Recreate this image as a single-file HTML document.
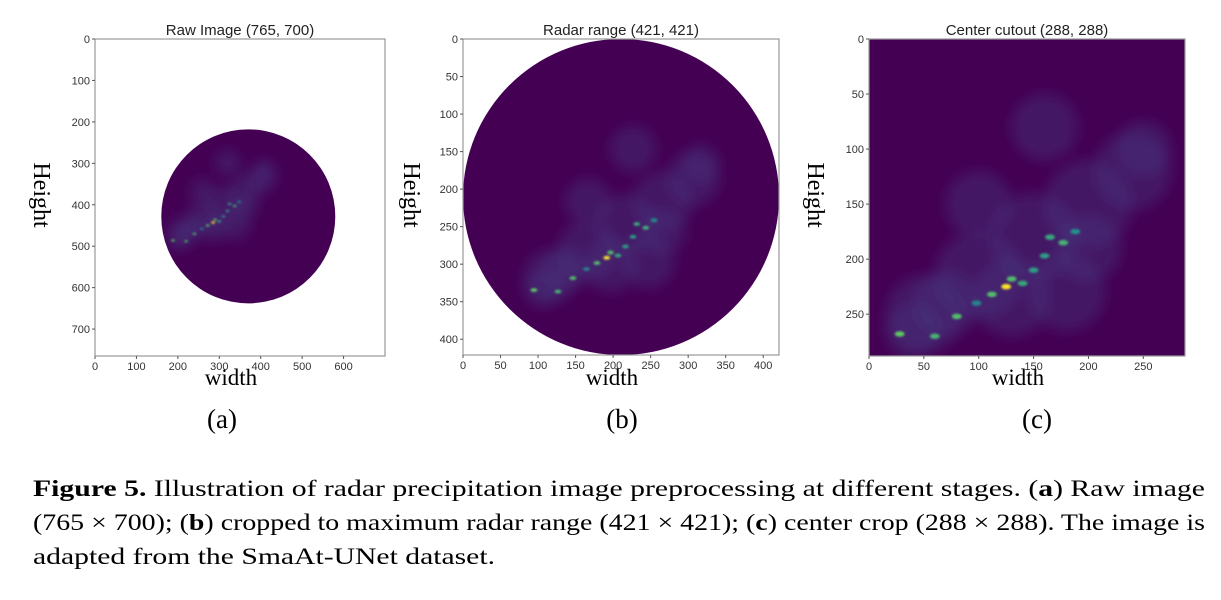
<!DOCTYPE html>
<html><head><meta charset="utf-8"><style>
html,body{margin:0;padding:0;background:#fff;}
svg{display:block;}
.tk{font-family:"Liberation Sans",sans-serif;font-size:11px;fill:#333;}
.tt{font-family:"Liberation Sans",sans-serif;font-size:15px;fill:#222;}
.ser{font-family:"Liberation Serif",serif;fill:#000;}
</style></head><body>
<svg id="fig" width="1221" height="600" viewBox="0 0 1221 600" xmlns="http://www.w3.org/2000/svg">
<defs>
<filter id="bl" x="-50%" y="-50%" width="200%" height="200%"><feGaussianBlur stdDeviation="6"/></filter>
<filter id="bl2" x="-50%" y="-50%" width="200%" height="200%"><feGaussianBlur stdDeviation="1"/></filter>
</defs>
<g id="root"></g>
<text class="ser" x="222" y="428" font-size="27" text-anchor="middle">(a)</text>
<text class="ser" x="622" y="428" font-size="27" text-anchor="middle">(b)</text>
<text class="ser" x="1037" y="428" font-size="27" text-anchor="middle">(c)</text>
<text class="ser" x="33" y="496" font-size="23" textLength="1172" lengthAdjust="spacingAndGlyphs"><tspan font-weight="bold">Figure 5.</tspan> Illustration of radar precipitation image preprocessing at different stages. (<tspan font-weight="bold">a</tspan>) Raw image</text>
<text class="ser" x="33" y="530" font-size="23" textLength="1172" lengthAdjust="spacingAndGlyphs">(765 × 700); (<tspan font-weight="bold">b</tspan>) cropped to maximum radar range (421 × 421); (<tspan font-weight="bold">c</tspan>) center crop (288 × 288). The image is</text>
<text class="ser" x="33" y="564" font-size="23" textLength="462" lengthAdjust="spacingAndGlyphs">adapted from the SmaAt-UNet dataset.</text>
</svg>
<script>
// rain features in center-crop coords (0-288)
const blobX = [50, 100, 150, 200, 240, 100, 160, 250, 130, 40, 200, 180, 70];
const blobY = [250, 215, 180, 150, 120, 150, 80, 100, 235, 265, 190, 230, 240];
const blobR = [35, 40, 40, 40, 35, 30, 30, 25, 35, 25, 30, 35, 30];
const spotX = [125, 112, 80, 28, 60, 165, 177, 150, 140, 188, 98, 160, 130];
const spotY = [225, 232, 252, 268, 270, 180, 185, 210, 222, 175, 240, 197, 218];
const spotV = [1.0, 0.7, 0.7, 0.75, 0.65, 0.6, 0.65, 0.55, 0.6, 0.5, 0.45, 0.55, 0.7];
const panels = [
 {name:'raw-image', title:'Raw Image (765, 700)', x0:95, y0:39, w:290, h:317, xmax:700, ymax:765, xt:[0,100,200,300,400,500,600], yt:[0,100,200,300,400,500,600,700], circle:[370,428,210], off:[160,218], tx:240},
 {name:'radar-range', title:'Radar range (421, 421)', x0:463, y0:39, w:316, h:316, xmax:421, ymax:421, xt:[0,50,100,150,200,250,300,350,400], yt:[0,50,100,150,200,250,300,350,400], circle:[210.5,210.5,210.5], off:[66.5,66.5], tx:621},
 {name:'center-cutout', title:'Center cutout (288, 288)', x0:869, y0:39, w:316, h:317, xmax:288, ymax:288, xt:[0,50,100,150,200,250], yt:[0,50,100,150,200,250], circle:null, off:[0,0], tx:1027}
];
const NS='http://www.w3.org/2000/svg';
const root=document.getElementById('root');
function mk(tag,attrs,parent){const e=document.createElementNS(NS,tag);for(const k in attrs)e.setAttribute(k,attrs[k]);(parent||root).appendChild(e);return e;}
function vir(v){const c=[[68,1,84],[59,82,139],[33,145,140],[94,201,98],[253,231,37]];const t=Math.min(1,Math.max(0,v))*4;const i=Math.min(3,Math.floor(t));const f=t-i;const a=c[i],b=c[i+1];return 'rgb('+a.map((x,j)=>Math.round(x+(b[j]-x)*f)).join(',')+')';}
panels.forEach((p,pi)=>{
 const sx=v=>p.x0+v/p.xmax*p.w, sy=v=>p.y0+v/p.ymax*p.h, sr=v=>v/p.xmax*p.w;
 const g=mk('g',{});
 
 
 const cid='clip'+pi;
 const cp=mk('clipPath',{id:cid},g);
 if(p.circle) mk('circle',{cx:sx(p.circle[0]),cy:sy(p.circle[1]),r:sr(p.circle[2])},cp);
 else mk('rect',{x:p.x0,y:p.y0,width:p.w,height:p.h},cp);
 const img=mk('g',{'clip-path':'url(#'+cid+')'},g);
 
 
 mk('rect',{x:p.x0,y:p.y0,width:p.w,height:p.h,fill:'#440154'},img);
 const bg=mk('g',{filter:'url(#bl)'},img);
 blobX.forEach((bx,i)=>{
  const e=mk('circle',{cx:sx(bx+p.off[0]),cy:sy(blobY[i]+p.off[1]),r:sr(blobR[i]),fill:'#46387c','fill-opacity':0.4},bg);
  
  
 });
 const sg=mk('g',{filter:'url(#bl2)'},img);
 spotX.forEach((s,i)=>{
  const e=mk('ellipse',{cx:sx(s+p.off[0]),cy:sy(spotY[i]+p.off[1]),rx:Math.max(1.2,sr(4.5)),ry:Math.max(0.9,sr(2.5)),fill:vir(spotV[i])},sg);
  
  
 });
 const fr=mk('rect',{x:p.x0,y:p.y0,width:p.w,height:p.h,fill:'none',stroke:'#999','stroke-width':1.2},g);
 
 
 p.xt.forEach(v=>{
  mk('line',{x1:sx(v),x2:sx(v),y1:p.y0+p.h,y2:p.y0+p.h+3,stroke:'#555'},g);
  const t=mk('text',{x:sx(v),y:p.y0+p.h+14,'text-anchor':'middle',class:'tk'},g);t.textContent=v;
  
  
 });
 p.yt.forEach(v=>{
  mk('line',{x1:p.x0-3,x2:p.x0,y1:sy(v),y2:sy(v),stroke:'#555'},g);
  const t=mk('text',{x:p.x0-5,y:sy(v)+4,'text-anchor':'end',class:'tk'},g);t.textContent=v;
  
  
 });
 const ti=mk('text',{x:p.tx,y:35,'text-anchor':'middle',class:'tt'},g);ti.textContent=p.title;
 
 
 const xl=mk('text',{x:p.tx-9,y:385,'text-anchor':'middle',class:'ser','font-size':23},g);xl.textContent='width';
 
 
 const ly=p.x0-52+ (pi==0?-9:(pi==1?-7:-9));
 const yl=mk('text',{x:0,y:0,'text-anchor':'middle',class:'ser','font-size':24,transform:'translate('+(ly)+',195) rotate(90)'},g);yl.textContent='Height';
 
 
});
</script>
</body></html>
